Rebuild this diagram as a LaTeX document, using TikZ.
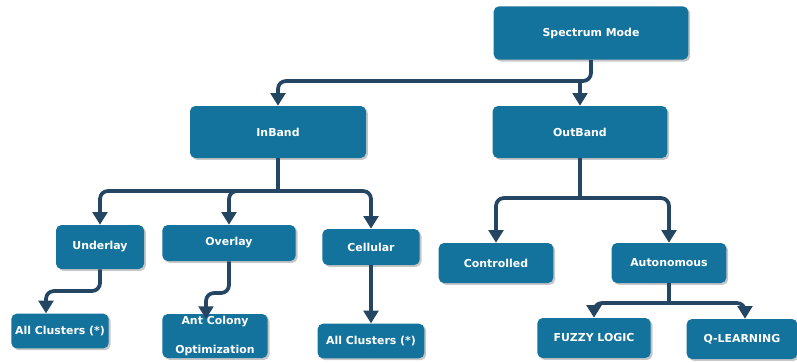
\documentclass[tikz,border=0pt]{standalone}
\usepackage{fontspec}
\setmainfont{DejaVu Sans}
\usetikzlibrary{arrows.meta,shadows}
\definecolor{boxblue}{RGB}{19,115,156}
\definecolor{linknavy}{RGB}{36,70,98}
\begin{document}
\begin{tikzpicture}[x=0.75pt,y=-0.75pt,
  box/.style={draw=none,fill=boxblue,rounded corners=4pt,text=white,
    font=\bfseries\fontsize{8.2}{9}\selectfont,inner sep=0pt,
    drop shadow={shadow xshift=1.4pt,shadow yshift=-1.4pt,fill=black,opacity=0.22}},
  conn/.style={draw=linknavy,line width=2.8pt,rounded corners=6pt,
    -{Triangle[width=11pt,length=9.5pt]}},
  link/.style={draw=linknavy,line width=2.8pt,rounded corners=6pt}]
\useasboundingbox (0,0) rectangle (797,362);
% top level
\node[box,minimum width=146pt,minimum height=40pt] (sm) at (591,33) {Spectrum Mode};
% second level
\node[box,minimum width=132pt,minimum height=39pt] (ib) at (278,132) {InBand};
\node[box,minimum width=131pt,minimum height=39pt] (ob) at (580,132) {OutBand};
% third level
\node[box,minimum width=66pt,minimum height=33pt] (ul) at (100,247) {Underlay};
\node[box,minimum width=100pt,minimum height=27pt] (ov) at (229,243) {Overlay};
\node[box,minimum width=73pt,minimum height=27pt] (ce) at (371,247) {Cellular};
\node[box,minimum width=86pt,minimum height=30pt] (co) at (496,263) {Controlled};
\node[box,minimum width=86pt,minimum height=30pt] (au) at (669,263) {Autonomous};
% leaves
\node[box,minimum width=73pt,minimum height=26pt] (ac1) at (60,331) {All Clusters (*)};
\node[box,minimum width=79pt,minimum height=33pt,align=center] (aco) at (215,336)
  {Ant Colony\\[13pt]Optimization};
\node[box,minimum width=80pt,minimum height=26pt] (ac2) at (371,341) {All Clusters (*)};
\node[box,minimum width=85pt,minimum height=30pt] (fl) at (594,338) {FUZZY LOGIC};
\node[box,minimum width=83pt,minimum height=30pt] (ql) at (742,339) {Q-LEARNING};
% junction points
\coordinate (j0) at (591,81);
\coordinate (j1) at (278,191);
\coordinate (j2) at (580,198);
\coordinate (j3) at (669,303);
% spectrum mode -> bands
\draw[conn] (sm.south) -- (j0) -- (ib.north |- j0) -- (ib.north);
\draw[conn] (ob.north |- j0) -- (ob.north);
% inband -> modes
\draw[link] (ib.south) -- (j1);
\draw[conn] (j1) -- (ul.north |- j1) -- (ul.north);
\draw[conn] (j1) -- (ov.north |- j1) -- (ov.north);
\draw[conn] (j1) -- (ce.north |- j1) -- (ce.north);
% outband -> control types
\draw[link] (ob.south) -- (j2);
\draw[conn] (j2) -- (co.north |- j2) -- (co.north);
\draw[conn] (j2) -- (au.north |- j2) -- (au.north);
% modes -> algorithms
\draw[conn] (ul.south) -- (100,291) -- (46,291) -- (46,0 |- ac1.north);
\draw[conn] (ov.south) -- (229,293) -- (206,293) -- (206,319);
\draw[conn] (ce.south) -- (ac2.north);
% autonomous -> learning methods
\draw[link] (au.south) -- (j3);
\draw[conn] (j3) -- (594,303) -- (fl.north);
\draw[conn] (j3) -- (745,303) -- (745,0 |- ql.north);
\end{tikzpicture}
\end{document}
